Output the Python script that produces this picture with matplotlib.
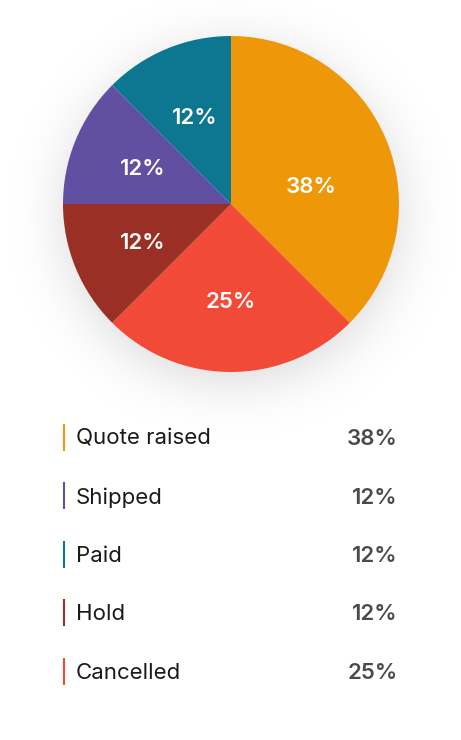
import math
import numpy as np
import matplotlib
matplotlib.use("Agg")
import matplotlib.pyplot as plt

# data (legend order)
categories = ["Quote raised", "Shipped", "Paid", "Hold", "Cancelled"]
counts = [3, 1, 1, 1, 2]
# order the slices are drawn, clockwise from 12 o'clock
pie_order = ["Quote raised", "Cancelled", "Hold", "Shipped", "Paid"]

colors = {
	"Quote raised": "#EE9709",
	"Shipped": "#614FA1",
	"Paid": "#0D7690",
	"Hold": "#9A3025",
	"Cancelled": "#F14B37",
}

plt.rcParams['font.family'] = ['Inter', 'DejaVu Sans']

W, H = 461, 740
fig = plt.figure(figsize=(W / 100, H / 100), dpi=100)
fig.patch.set_facecolor("white")

# soft drop shadow behind the pie
bg = fig.add_axes([0, 0, 1, 1])
bg.set_axis_off()
yy, xx = np.mgrid[0:H, 0:W]
dist = np.hypot(xx - 231, yy - 214)
soft = 1.0 / (1.0 + np.exp((dist - 166) / 16.0))
shadow = np.zeros((H, W, 4))
shadow[..., 3] = 0.15 * soft
bg.imshow(shadow, extent=(0, W, H, 0), interpolation="bilinear")
bg.set_xlim(0, W)
bg.set_ylim(H, 0)

# pie
cx, cy, r = 231, 204, 168
ax = fig.add_axes([(cx - r) / W, 1 - (cy + r) / H, 2 * r / W, 2 * r / H])
values = [counts[categories.index(c)] for c in pie_order]
wedges, texts, autotexts = ax.pie(
	values,
	colors=[colors[c] for c in pie_order],
	startangle=90,
	counterclock=False,
	autopct='%.0f%%',
	pctdistance=0.57,
	wedgeprops=dict(linewidth=0),
	textprops=dict(color="white", fontsize=16, fontweight="semibold", va="center_baseline"),
)
# the big slice's label sits lower in the original, not on the bisector
w0 = wedges[0]
ang = math.radians(w0.theta1 + 0.43 * (w0.theta2 - w0.theta1))
autotexts[0].set_position((0.49 * math.cos(ang), 0.49 * math.sin(ang)))
ax.set_xlim(-1, 1)
ax.set_ylim(-1, 1)
ax.set_aspect("equal")
ax.set_axis_off()

# legend rows
leg = fig.add_axes([0, 0, 1, 1])
leg.set_axis_off()
leg.patch.set_alpha(0)
leg.set_xlim(0, W)
leg.set_ylim(H, 0)
total = sum(counts)
for i, (name, n) in enumerate(zip(categories, counts)):
	y = 437 + i * 58.5
	leg.plot([63.5, 63.5], [y - 13.5, y + 13.5], color=colors[name], lw=1.5, solid_capstyle="butt")
	leg.text(76, y + 8, name, fontsize=16, color="#1A1A1A", va="baseline", ha="left")
	leg.text(397.5, y + 8, "%.0f%%" % (100 * n / total), fontsize=16, color="#4A4A4A",
		fontweight="semibold", va="baseline", ha="right")

fig.savefig("out.png", dpi=100, facecolor="white")
